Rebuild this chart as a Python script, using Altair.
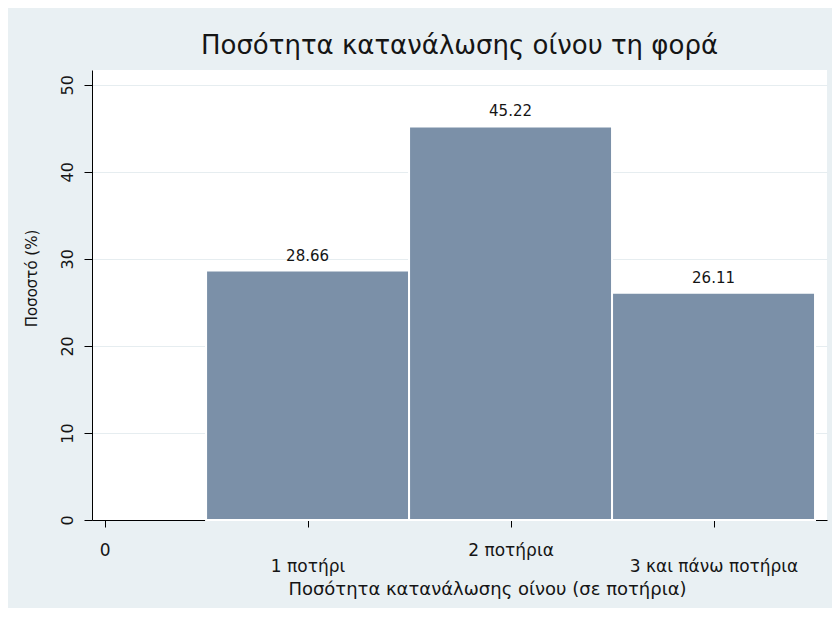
import json
import altair as alt
import pandas as pd

# ---- data ----
categories = [1, 2, 3]
percent = [28.66, 45.22, 26.11]
value_labels = ["28.66", "45.22", "26.11"]
tick_values = [0, 1, 2, 3]
tick_labels = ["0", "1 ποτήρι", "2 ποτήρια", "3 και πάνω ποτήρια"]
y_ticks = [0, 10, 20, 30, 40, 50]

title_text = "Ποσότητα κατανάλωσης οίνου τη φορά"
x_title = "Ποσότητα κατανάλωσης οίνου (σε ποτήρια)"
y_title = "Ποσοστό (%)"

FONT = "DejaVu Sans"
TXT = "#151515"
BAR = "#7B90A8"
BG = "#E9F0F3"
GRID = "#E6EDF0"

df = pd.DataFrame({"cat": categories, "pct": percent, "lab": value_labels})

label_expr = json.dumps(tick_labels, ensure_ascii=False) + "[datum.value]"

x_scale = alt.Scale(domain=[-0.062, 3.559], nice=False, zero=False)
y_scale = alt.Scale(domain=[0, 51.7], nice=False, zero=True)

x_axis = alt.Axis(
    values=tick_values,
    labelExpr=label_expr,
    labelFont=FONT,
    labelFontSize=17,
    labelColor=TXT,
    labelAlign="center",
    labelBaseline="top",
    labelPadding={"condition": {"test": "datum.value % 2 == 1", "value": 31}, "value": 15},
    labelOverlap=False,
    labelFlush=False,
    labelBound=False,
    tickSize=7,
    tickColor="black",
    tickWidth=1,
    domainColor="black",
    domainWidth=1,
    grid=False,
    title=x_title,
    titleFont=FONT,
    titleFontSize=18,
    titleFontWeight="normal",
    titleColor=TXT,
    titleX=395,
    titleY=74,
    titleAlign="center",
    titleBaseline="alphabetic",
)

y_axis = alt.Axis(
    values=y_ticks,
    labelFont=FONT,
    labelFontSize=16,
    labelColor=TXT,
    labelAngle=270,
    labelAlign="center",
    labelBaseline="bottom",
    labelPadding=9,
    labelOverlap=False,
    labelFlush=False,
    labelBound=False,
    tickSize=8,
    tickColor="black",
    tickWidth=1,
    domainColor="black",
    domainWidth=1,
    grid=True,
    gridColor=GRID,
    gridWidth=1,
    title=y_title,
    titleFont=FONT,
    titleFontSize=15,
    titleFontWeight="normal",
    titleColor=TXT,
    titleAngle=270,
    titleX=-61,
    titleY=208,
    titleAlign="center",
    titleBaseline="middle",
)

base = alt.Chart(df).transform_calculate(
    x0="datum.cat - 0.5", x1="datum.cat + 0.5", zero="0"
)

bars = base.mark_rect(color=BAR, stroke="white", strokeWidth=2).encode(
    x=alt.X("x0:Q", scale=x_scale, axis=x_axis),
    x2="x1:Q",
    y=alt.Y("pct:Q", scale=y_scale, axis=y_axis),
    y2="zero:Q",
)

labels = base.mark_text(
    font=FONT, fontSize=15, color=TXT, baseline="alphabetic", align="center", dy=-10
).encode(
    x=alt.X("cat:Q", scale=x_scale),
    y=alt.Y("pct:Q", scale=y_scale),
    text="lab:N",
)

chart = (
    alt.layer(bars, labels)
    .properties(
        width=735,
        height=450,
        padding={"left": 84, "top": 62, "right": 5, "bottom": 88},
        autosize=alt.AutoSizeParams(type="none"),
        background=BG,
        title=alt.TitleParams(
            text=title_text,
            font=FONT,
            fontSize=26,
            fontWeight="normal",
            color=TXT,
            anchor="middle",
            baseline="alphabetic",
            offset=15,
            dy=25,
        ),
    )
    .configure_view(fill="white", stroke=None)
)

chart.save("out.html", embed_options={"renderer": "svg", "actions": False})
